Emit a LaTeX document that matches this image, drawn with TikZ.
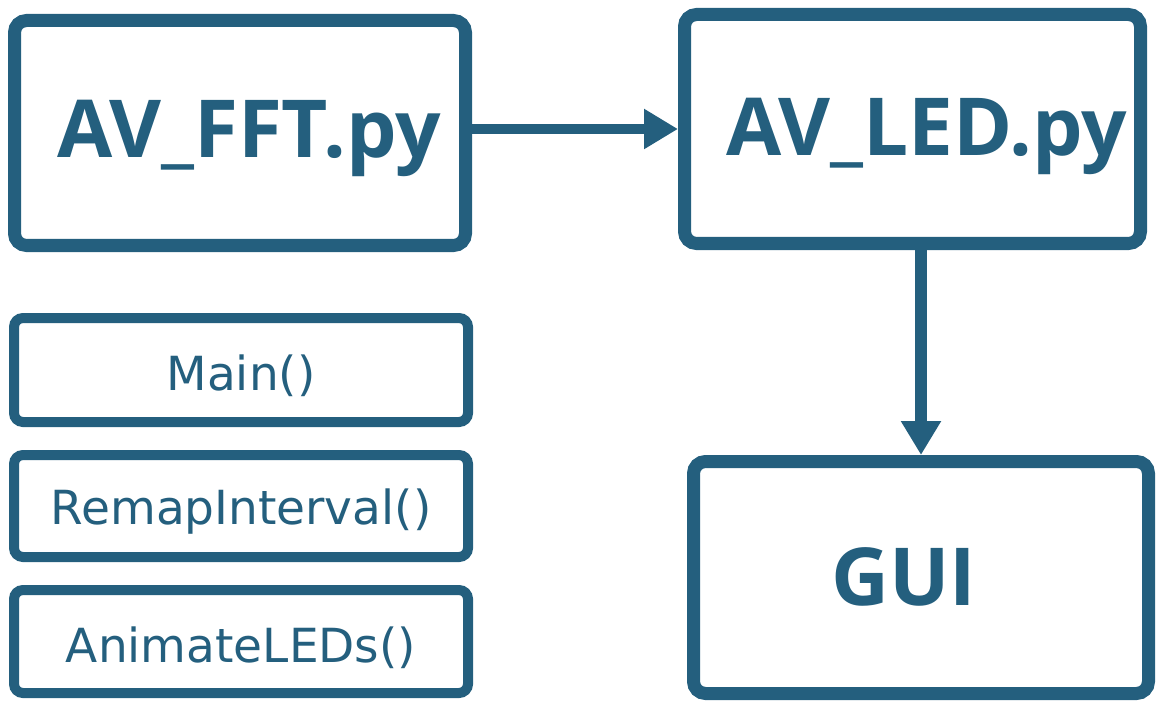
\documentclass[tikz,border=0pt]{standalone}
\usepackage{fontspec}
\setmainfont{DejaVu Sans}
\newfontfamily\bigf{Open Sans}
\usetikzlibrary{arrows.meta}
\definecolor{bl}{HTML}{245F7E}
\begin{document}
\begin{tikzpicture}[x=1pt,y=-1pt,
  bigbox/.style={draw=bl, line width=13pt, rounded corners=12pt, inner sep=0pt, fill=white},
  fnbox/.style={draw=bl, line width=10pt, rounded corners=9pt, inner sep=0pt, fill=white},
  bigtxt/.style={font=\bigf\bfseries\fontsize{80}{80}\selectfont, text=bl, inner sep=0pt},
  smalltxt/.style={font=\fontsize{47}{47}\selectfont, text=bl, inner sep=0pt, yshift=-6pt},
  conn/.style={draw=bl, -{Triangle[length=34pt,width=38pt]}}]
\useasboundingbox (0,0) rectangle (1166,711);
\node[bigbox, minimum width=451pt, minimum height=225pt,
  label={[bigtxt, xshift=9pt, yshift=-5pt]center:AV\_FFT.py}] (fft) at (240,133) {};
\node[bigbox, minimum width=456pt, minimum height=229pt,
  label={[bigtxt, xshift=14.5pt, yshift=-7pt]center:AV\_LED.py}] (led) at (912.5,129) {};
\node[bigbox, minimum width=455pt, minimum height=232pt,
  label={[bigtxt, xshift=-17pt, yshift=1pt]center:GUI}] (gui) at (921,577.5) {};
\node[fnbox, minimum width=454pt, minimum height=104pt,
  label={[smalltxt]center:Main()}] (main) at (241,370) {};
\node[fnbox, minimum width=454pt, minimum height=102pt,
  label={[smalltxt]center:RemapInterval()}] (remap) at (241,506) {};
\node[fnbox, minimum width=454pt, minimum height=103pt,
  label={[smalltxt]center:AnimateLEDs()}] (anim) at (241,641.5) {};
\draw[conn, line width=10pt] (fft.east |- led.west) -- (led.west);
\draw[conn, line width=12pt] (led.south -| gui.north) -- (gui.north);
\end{tikzpicture}
\end{document}
